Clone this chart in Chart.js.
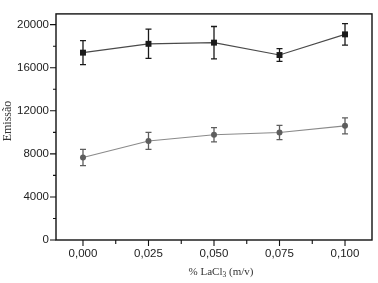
<!DOCTYPE html>
<html>
<head>
<meta charset="utf-8">
<script src="https://cdn.jsdelivr.net/npm/chart.js@4"></script>
<style>
  html, body { margin: 0; padding: 0; background: #fff; }
  #wrap { width: 378px; height: 283px; }
</style>
</head>
<body>
<div id="wrap"><canvas id="chart" width="378" height="283"></canvas></div>
<script>
// % LaCl3 (m/v)
const concentrations = [0, 0.025, 0.05, 0.075, 0.1];
const xTickLabels = ["0,000", "0,025", "0,050", "0,075", "0,100"];
const xTickValues = [0, 0.0125, 0.025, 0.0375, 0.05, 0.0625, 0.075, 0.0875, 0.1];
const yTickLabels = [0, 4000, 8000, 12000, 16000, 20000];
const yTickValues = [0, 2000, 4000, 6000, 8000, 10000, 12000, 14000, 16000, 18000, 20000];

// upper series (squares) and its error bars
const seriesA = [17400, 18220, 18330, 17180, 19100];
const errorA = [1120, 1360, 1500, 590, 1000];

// lower series (circles) and its error bars
const seriesB = [7660, 9200, 9780, 9990, 10600];
const errorB = [760, 790, 660, 665, 750];

const errors = [errorA, errorB];

function fmt(v) {
  return (Math.round(v * 1000) / 1000).toFixed(3).replace(".", ",");
}

const errorBars = {
  id: "errorBars",
  afterDatasetsDraw(chart) {
    const { ctx, scales: { x, y } } = chart;
    chart.data.datasets.forEach((ds, i) => {
      const err = errors[i];
      ctx.save();
      ctx.strokeStyle = ds.pointBackgroundColor;
      ctx.lineWidth = 1.3;
      ds.data.forEach((p, j) => {
        const px = x.getPixelForValue(p.x);
        const top = y.getPixelForValue(p.y + err[j]);
        const bot = y.getPixelForValue(p.y - err[j]);
        ctx.beginPath();
        ctx.moveTo(px, top); ctx.lineTo(px, bot);
        ctx.moveTo(px - 3, top); ctx.lineTo(px + 3, top);
        ctx.moveTo(px - 3, bot); ctx.lineTo(px + 3, bot);
        ctx.stroke();
      });
      ctx.restore();
    });
  }
};

// box around the plot, outward ticks, axis titles (with subscript 3)
const frame = {
  id: "frame",
  afterDraw(chart) {
    const { ctx, chartArea: a, scales: { x, y } } = chart;
    ctx.save();
    ctx.strokeStyle = "#111";
    ctx.lineWidth = 1.4;
    ctx.strokeRect(a.left, a.top, a.right - a.left, a.bottom - a.top);
    ctx.lineWidth = 1.1;
    ctx.beginPath();
    x.ticks.forEach(t => {
      const px = x.getPixelForValue(t.value);
      const major = xTickLabels.includes(fmt(t.value));
      ctx.moveTo(px, a.bottom); ctx.lineTo(px, a.bottom + (major ? 6 : 4));
    });
    y.ticks.forEach(t => {
      const py = y.getPixelForValue(t.value);
      const major = yTickLabels.includes(t.value);
      ctx.moveTo(a.left, py); ctx.lineTo(a.left - (major ? 6 : 3), py);
    });
    ctx.stroke();

    const big = "11px 'Liberation Serif', serif";
    const small = "7.5px 'Liberation Serif', serif";
    ctx.fillStyle = "#333";
    ctx.textBaseline = "middle";
    const cx = 221, cy = 272;
    const p1 = "% LaCl", p2 = "3", p3 = " (m/v)";
    ctx.font = big;
    const w1 = ctx.measureText(p1).width;
    const w3 = ctx.measureText(p3).width;
    ctx.font = small;
    const w2 = ctx.measureText(p2).width;
    const sx = cx - (w1 + w2 + w3) / 2;
    ctx.textAlign = "left";
    ctx.font = big;
    ctx.fillText(p1, sx, cy);
    ctx.fillText(p3, sx + w1 + w2, cy);
    ctx.font = small;
    ctx.fillText(p2, sx + w1, cy + 3);

    ctx.translate(8, 121);
    ctx.rotate(-Math.PI / 2);
    ctx.textAlign = "center";
    ctx.font = "12px 'Liberation Serif', serif";
    ctx.fillText("Emissão", 0, 0);
    ctx.restore();
  }
};

new Chart(document.getElementById("chart"), {
  type: "line",
  data: {
    datasets: [
      {
        data: concentrations.map((c, i) => ({ x: c, y: seriesA[i] })),
        borderColor: "#4a4a4a",
        borderWidth: 1.1,
        pointStyle: "rect",
        pointRadius: 4.2,
        pointBackgroundColor: "#1a1a1a",
        pointBorderColor: "#1a1a1a",
        pointBorderWidth: 0,
        tension: 0
      },
      {
        data: concentrations.map((c, i) => ({ x: c, y: seriesB[i] })),
        borderColor: "#8a8a8a",
        borderWidth: 1.1,
        pointStyle: "circle",
        pointRadius: 3,
        pointBackgroundColor: "#5e5e5e",
        pointBorderColor: "#5e5e5e",
        pointBorderWidth: 0,
        tension: 0
      }
    ]
  },
  options: {
    responsive: false,
    animation: false,
    devicePixelRatio: 1,
    layout: { padding: { top: 8, right: 6, left: 0, bottom: 0 } },
    plugins: { legend: { display: false }, tooltip: { enabled: false } },
    scales: {
      x: {
        type: "linear",
        min: -0.0103,
        max: 0.1103,
        afterBuildTicks: s => { s.ticks = xTickValues.map(v => ({ value: v })); },
        afterFit: s => { s.height = 43; },
        grid: { display: false, drawTicks: false },
        border: { display: false },
        ticks: {
          padding: 7,
          autoSkip: false,
          maxRotation: 0,
          color: "#222",
          font: { family: "'Liberation Sans', Arial, sans-serif", size: 11.5 },
          callback: v => {
            const s = fmt(v);
            return xTickLabels.includes(s) ? s : "";
          }
        }
      },
      y: {
        min: 0,
        max: 21000,
        afterBuildTicks: s => { s.ticks = yTickValues.map(v => ({ value: v })); },
        afterFit: s => { s.width = 56; },
        grid: { display: false, drawTicks: false },
        border: { display: false },
        ticks: {
          padding: 7,
          autoSkip: false,
          color: "#222",
          font: { family: "'Liberation Sans', Arial, sans-serif", size: 11.5 },
          callback: v => yTickLabels.includes(v) ? String(v) : ""
        }
      }
    }
  },
  plugins: [errorBars, frame]
});
</script>
</body>
</html>
